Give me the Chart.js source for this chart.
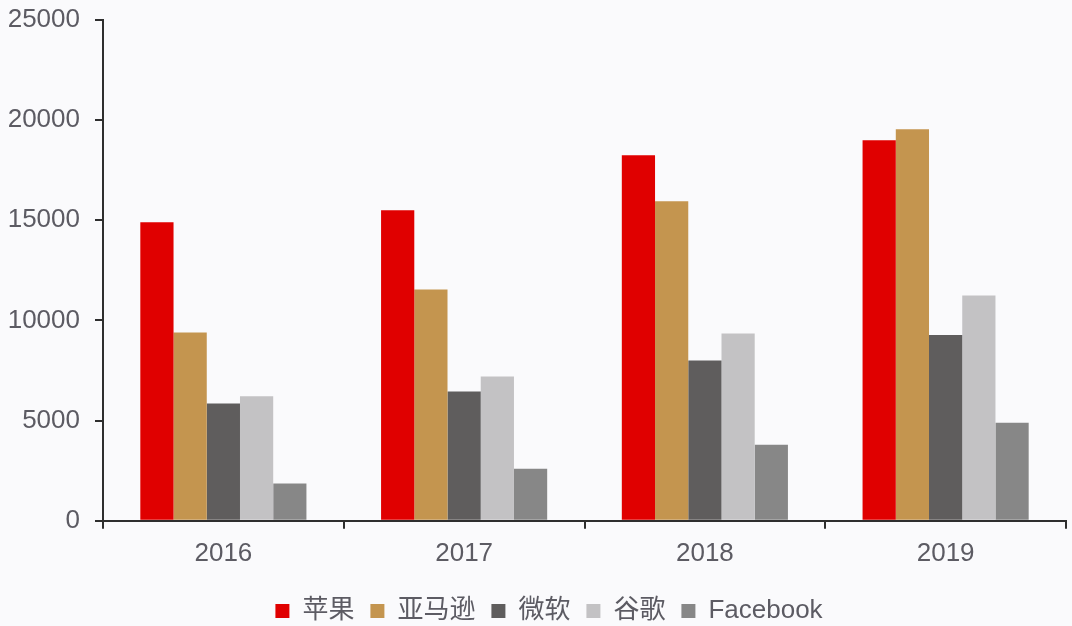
<!DOCTYPE html>
<html>
<head>
<meta charset="utf-8">
<script src="https://cdn.jsdelivr.net/npm/chart.js@4"></script>
<style>
  html, body { margin: 0; padding: 0; background: #fafafc; }
  #wrap { width: 1072px; height: 626px; position: relative; }
</style>
</head>
<body>
<div id="wrap"><canvas id="revenueChart"></canvas></div>
<script>
// Years on the x axis
const years = ["2016", "2017", "2018", "2019"];

// Revenue per company
const apple = [14900, 15500, 18250, 19000];
const amazon = [9400, 11550, 15950, 19550];
const microsoft = [5850, 6450, 8000, 9280];
const google = [6220, 7200, 9350, 11250];
const facebook = [1860, 2600, 3800, 4900];

const yTicks = [0, 5000, 10000, 15000, 20000, 25000];

const fontFamily = "'Liberation Sans', Arial, 'Noto Sans CJK SC', sans-serif";
const textColor = "#5c5b63";
const axisColor = "#2e2e2e";

// nudge the legend a bit to the right, like in the original
const legendShift = {
    id: "legendShift",
    afterLayout: function (chart) {
        if (chart.legend) {
            chart.legend.left += 16;
            chart.legend.right += 16;
        }
    }
};

document.addEventListener("DOMContentLoaded", function () {
    const ctx = document.getElementById("revenueChart").getContext("2d");

    new Chart(ctx, {
        type: "bar",
        data: {
            labels: years,
            datasets: [
                { label: "苹果", data: apple, backgroundColor: "#e00000" },
                { label: "亚马逊", data: amazon, backgroundColor: "#c4954f" },
                { label: "微软", data: microsoft, backgroundColor: "#5f5d5d" },
                { label: "谷歌", data: google, backgroundColor: "#c3c2c4" },
                { label: "Facebook", data: facebook, backgroundColor: "#878787" }
            ]
        },
        options: {
            responsive: true,
            maintainAspectRatio: false,
            animation: false,
            datasets: {
                bar: { categoryPercentage: 0.69, barPercentage: 1.0, borderWidth: 0 }
            },
            layout: { padding: { top: 0, right: 6, left: 0, bottom: -8 } },
            scales: {
                x: {
                    offset: true,
                    afterFit: function (scale) {
                        scale.height += 4;
                    },
                    grid: {
                        display: true,
                        offset: true,
                        drawOnChartArea: false,
                        drawTicks: true,
                        tickLength: 8,
                        color: axisColor,
                        lineWidth: 2
                    },
                    border: { display: true, color: axisColor, width: 2 },
                    ticks: {
                        color: textColor,
                        font: { family: fontFamily, size: 26 },
                        padding: 9
                    }
                },
                y: {
                    min: 0,
                    max: 25000,
                    afterBuildTicks: function (scale) {
                        scale.ticks = yTicks.map(v => ({ value: v }));
                    },
                    afterFit: function (scale) {
                        scale.width = 103;
                        scale.paddingTop = 20;
                        scale.paddingBottom = 14;
                    },
                    grid: {
                        display: true,
                        drawOnChartArea: false,
                        drawTicks: true,
                        tickLength: 8,
                        color: axisColor,
                        lineWidth: 2
                    },
                    border: { display: true, color: axisColor, width: 2 },
                    ticks: {
                        color: textColor,
                        font: { family: fontFamily, size: 26 },
                        padding: 15,
                        callback: function (value) { return String(value); }
                    }
                }
            },
            plugins: {
                legend: {
                    position: "bottom",
                    labels: {
                        color: textColor,
                        font: { family: fontFamily, size: 26 },
                        boxWidth: 14,
                        boxHeight: 14,
                        padding: 16
                    }
                },
                tooltip: { enabled: false }
            }
        },
        plugins: [legendShift]
    });
});
</script>
</body>
</html>
